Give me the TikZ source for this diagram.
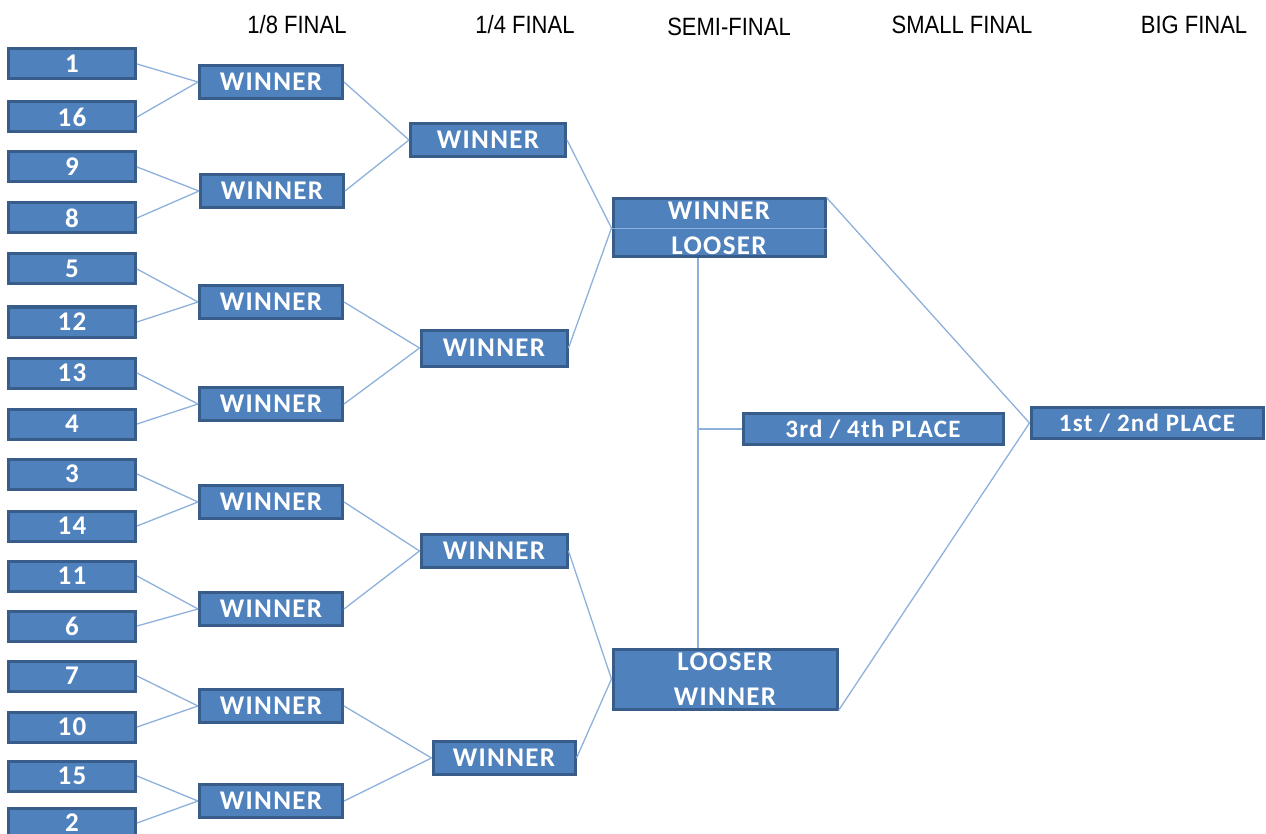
\documentclass[tikz,border=0pt]{standalone}
\usepackage{fontspec}
\setmainfont{Liberation Sans}
\newfontfamily\boxfont[LetterSpace=5]{Carlito}
\usepackage{tikz}
\usepackage{xcolor}
\definecolor{boxfill}{HTML}{4F81BD}
\definecolor{boxedge}{HTML}{385D8A}
\definecolor{wirecol}{HTML}{8EB1DC}

\begin{document}
\begin{tikzpicture}[x=1pt,y=-1pt]
  \tikzstyle{team} = [draw=boxedge,line width=3pt,fill=boxfill,text=white,inner sep=0pt,
    font=\boxfont\bfseries\fontsize{27}{35}\selectfont]
  \tikzstyle{seed} = [team,minimum width=127,minimum height=30]
  \tikzstyle{win} = [team,minimum width=143,minimum height=33]
  \tikzstyle{wire} = [draw=wirecol,line width=1.3pt]
  \tikzstyle{head} = [font=\fontsize{25}{29}\selectfont,xscale=.88]
  \useasboundingbox (0,0) rectangle (1266,834);
  %%
  \node[head] (h1) at (297,25) {1/8 FINAL};
  \node[head] (h2) at (525,25) {1/4 FINAL};
  \node[head] (h3) at (729,27) {SEMI-FINAL};
  \node[head] (h4) at (962,25) {SMALL FINAL};
  \node[head] (h5) at (1194,25) {BIG FINAL};
  %%
  \node[seed] (s1) at (72,64) {1};
  \node[seed] (s16) at (72,117) {16};
  \node[seed] (s9) at (72,167) {9};
  \node[seed] (s8) at (72,218) {8};
  \node[seed] (s5) at (72,269) {5};
  \node[seed] (s12) at (72,322) {12};
  \node[seed] (s13) at (72,373) {13};
  \node[seed] (s4) at (72,424) {4};
  \node[seed] (s3) at (72,474) {3};
  \node[seed] (s14) at (72,526) {14};
  \node[seed] (s11) at (72,576) {11};
  \node[seed] (s6) at (72,626) {6};
  \node[seed] (s7) at (72,676) {7};
  \node[seed] (s10) at (72,727) {10};
  \node[seed] (s15) at (72,776) {15};
  \node[seed] (s2) at (72,823) {2};
  %%
  \node[win] (w1) at (271,82) {WINNER};
  \node[win] (w2) at (272,191) {WINNER};
  \node[win] (w3) at (271,302) {WINNER};
  \node[win] (w4) at (271,404) {WINNER};
  \node[win] (w5) at (271,502) {WINNER};
  \node[win] (w6) at (271,609) {WINNER};
  \node[win] (w7) at (271,706) {WINNER};
  \node[win] (w8) at (271,801) {WINNER};
  %%
  \node[win,minimum width=155] (q1) at (488,140) {WINNER};
  \node[win,minimum width=146,minimum height=36] (q2) at (494,348) {WINNER};
  \node[win,minimum width=146] (q3) at (494,551) {WINNER};
  \node[win,minimum width=142] (q4) at (504,758) {WINNER};
  %%
  \node[team,minimum width=212,minimum height=58,align=center] (semiA) at (719,228) {WINNER\\LOOSER};
  \node[team,minimum width=224,minimum height=60,align=center] (semiB) at (725,679) {LOOSER\\WINNER};
  \node[team,minimum width=260,minimum height=31,font=\boxfont\bfseries\fontsize{25}{30}\selectfont] (small) at (873,429) {3rd / 4th PLACE};
  \node[team,minimum width=232,minimum height=31,font=\boxfont\bfseries\fontsize{25}{30}\selectfont] (final) at (1147,423) {1st / 2nd PLACE};
  \coordinate (link) at (698,429);
  %%
  \path [wire] (s1.east) -- (w1.west); \path [wire] (s16.east) -- (w1.west);
  \path [wire] (s9.east) -- (w2.west); \path [wire] (s8.east) -- (w2.west);
  \path [wire] (s5.east) -- (w3.west); \path [wire] (s12.east) -- (w3.west);
  \path [wire] (s13.east) -- (w4.west); \path [wire] (s4.east) -- (w4.west);
  \path [wire] (s3.east) -- (w5.west); \path [wire] (s14.east) -- (w5.west);
  \path [wire] (s11.east) -- (w6.west); \path [wire] (s6.east) -- (w6.west);
  \path [wire] (s7.east) -- (w7.west); \path [wire] (s10.east) -- (w7.west);
  \path [wire] (s15.east) -- (w8.west); \path [wire] (s2.east) -- (w8.west);
  %%
  \path [wire] (w1.east) -- (q1.west); \path [wire] (w2.east) -- (q1.west);
  \path [wire] (w3.east) -- (q2.west); \path [wire] (w4.east) -- (q2.west);
  \path [wire] (w5.east) -- (q3.west); \path [wire] (w6.east) -- (q3.west);
  \path [wire] (w7.east) -- (q4.west); \path [wire] (w8.east) -- (q4.west);
  %%
  \path [wire] (q1.east) -- (semiA.west); \path [wire] (q2.east) -- (semiA.west);
  \path [wire] (q3.east) -- (semiB.west); \path [wire] (q4.east) -- (semiB.west);
  \path [wire,line width=.8pt] (semiA.west) -- (semiA.east);
  \path [wire] (semiA.south -| link) -- (semiB.north -| link);
  \path [wire] (link) -- (small.west);
  \path [wire] (semiA.north east) -- (final.west);
  \path [wire] (semiB.south east) -- (final.west);
\end{tikzpicture}
\end{document}
